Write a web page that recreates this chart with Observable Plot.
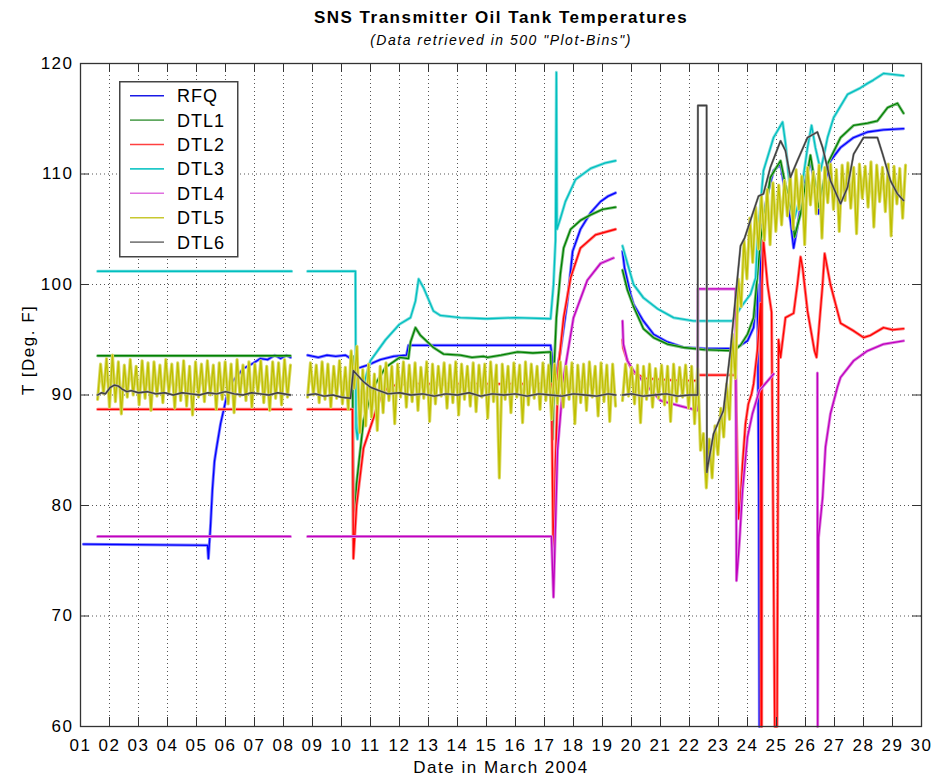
<!DOCTYPE html>
<html><head><meta charset="utf-8">
<script src="https://cdn.jsdelivr.net/npm/d3@7"></script>
<script src="https://cdn.jsdelivr.net/npm/@observablehq/plot@0.6"></script>
<style>
body{margin:0;background:#fff;}
#wrap{position:relative;width:935px;height:780px;}
#legend{position:absolute;left:119px;top:81px;}
</style></head><body>
<div id="wrap"><div id="chart"></div><svg id="legend" width="120" height="177"></svg></div>
<script>
const dayTicks = [1,2,3,4,5,6,7,8,9,10,11,12,13,14,15,16,17,18,19,20,21,22,23,24,25,26,27,28,29,30];
const tempTicks = [60,70,80,90,100,110,120];
const seriesNames = ["RFQ","DTL1","DTL2","DTL3","DTL4","DTL5","DTL6"];
const coreColors = ["#0000ff","#008000","#ff0000","#00bfbf","#bf00bf","#bfbf00","#404040"];
const haloColors = ["#8080ff","#80c080","#ff8080","#80dfdf","#df80df","#dada66","#a0a0a0"];
const legendColors = ["#1a1ae6","#60a860","#ff4040","#20c8c8","#e070e0","#c8c830","#808080"];

// [day of March, temperature °F]; null = no data
const rfq = [[1.10,76.5],[5.38,76.4],[5.41,75.2],[5.48,78.0],[5.55,81.5],[5.62,84.0],[5.69,85.2],[5.83,87.4],[6.07,90.2],[6.24,91.2],[6.62,92.4],[6.97,92.9],[7.2,93.3],[7.45,93.2],[7.7,93.6],[7.9,93.3],[8.1,93.6],[8.24,93.4],null,
 [8.83,93.6],[9.2,93.4],[9.5,93.6],[9.8,93.5],[10.14,93.6],[10.38,93.2],[10.48,92.4],[10.66,92.5],[10.90,92.7],[11.34,93.2],[11.8,93.5],[12.24,93.6],[12.31,94.5],[17.21,94.5],[17.26,93.5],[17.31,89.5],[17.38,91.5],[17.55,94.0],[17.79,98.5],[17.97,103.0],[18.24,105.0],[18.59,106.5],[18.93,107.5],[19.2,108.0],[19.45,108.3],null,
 [19.69,103.0],[19.76,101.5],[19.97,99.1],[20.07,98.2],[20.41,96.7],[20.76,95.5],[21.24,94.8],[21.79,94.3],[22.5,94.2],[23.52,94.2],[23.76,94.5],[24.00,94.9],[24.21,96.1],[24.34,100.0],[24.39,81.4],[24.41,60.0],[24.43,60.0],[24.45,105.0],[24.55,106.0],[24.69,108.2],[24.90,110.3],[25.14,110.9],[25.31,108.2],[25.48,105.8],[25.59,103.3],[25.72,105.2],[25.93,108.8],[26.17,111.2],[26.34,108.8],[26.45,106.4],[26.62,108.8],[26.86,111.2],[27.21,112.4],[27.66,113.3],[28.14,113.8],[28.69,114.0],[29.38,114.1]];

const dtl1 = [[1.59,93.55],[8.24,93.55],null,
 [10.30,93.5],[10.38,93.5],[10.41,76.8],[10.52,82.0],[10.76,87.7],[11.10,90.7],[11.52,92.5],[12.00,93.4],[12.31,93.3],[12.38,94.8],[12.55,96.1],[12.72,95.4],[13.17,94.3],[13.52,93.7],[14.10,93.6],[14.5,93.4],[14.90,93.5],[15.03,93.4],[15.5,93.6],[16.07,93.9],[16.6,93.8],[17.21,93.9],[17.28,86.0],[17.34,93.0],[17.41,97.0],[17.55,101.0],[17.66,103.3],[17.90,105.0],[18.24,105.8],[18.59,106.3],[19.0,106.8],[19.45,107.0],null,
 [19.69,101.3],[19.86,99.5],[20.07,98.0],[20.41,96.0],[20.76,95.2],[21.24,94.6],[21.79,94.3],[22.5,94.1],[23.52,94.0],[23.76,94.5],[24.00,95.5],[24.21,97.0],[24.45,104.0],[24.79,109.7],[25.14,111.2],[25.31,109.0],[25.55,106.4],[25.62,104.3],[25.83,106.4],[26.17,111.7],[26.34,109.0],[26.45,107.0],[26.76,110.9],[27.21,113.3],[27.66,114.4],[28.14,114.6],[28.48,114.8],[28.83,116.0],[29.17,116.4],[29.38,115.5]];

const dtl2 = [[1.59,88.7],[8.27,88.7],null,
 [8.83,88.7],[10.38,88.7],[10.41,75.2],[10.52,80.0],[10.76,85.2],[11.34,89.8],[11.59,90.7],[12.03,91.0],[17.24,91.0],[17.31,74.0],[17.38,84.0],[17.48,92.5],[17.66,97.0],[17.90,100.6],[18.24,103.3],[18.76,104.5],[19.45,105.0],null,
 [19.69,95.0],[19.72,94.2],[19.86,93.1],[20.07,92.0],[20.48,91.5],[21.00,91.4],[21.7,91.3],[22.28,91.3],[22.29,91.8],[23.59,91.8],[23.69,78.8],[23.76,80.5],[23.83,83.8],[23.93,87.4],[24.03,89.2],[24.14,90.1],[24.21,91.0],[24.34,94.0],[24.45,98.3],[24.47,60.0],[24.49,60.0],[24.50,100.0],[24.55,104.0],[24.69,100.0],[24.83,97.5],[24.94,60.0],[25.02,60.0],[25.07,95.0],[25.14,93.4],[25.31,97.0],[25.59,97.4],[25.72,100.0],[25.83,102.5],[25.90,101.5],[26.07,97.6],[26.31,94.0],[26.38,93.4],[26.59,100.0],[26.66,102.8],[26.86,100.0],[27.21,96.5],[27.66,95.8],[28.0,95.2],[28.24,95.4],[28.69,96.1],[29.0,95.9],[29.38,96.0]];

const dtl3 = [[1.59,101.2],[8.28,101.2],null,
 [8.83,101.2],[10.48,101.2],[10.50,87.0],[10.55,86.0],[10.66,90.0],[11.00,93.1],[11.52,95.0],[12.00,96.4],[12.38,97.0],[12.55,98.5],[12.66,100.5],[12.83,99.7],[13.17,97.6],[13.41,97.2],[14.1,97.0],[15.0,96.9],[16.0,97.0],[17.21,96.9],[17.31,100.0],[17.38,104.0],[17.41,119.2],[17.43,105.0],[17.55,106.0],[17.72,107.5],[18.07,109.5],[18.59,110.5],[19.10,111.0],[19.45,111.2],null,
 [19.69,103.5],[19.86,101.9],[20.07,100.0],[20.41,98.8],[20.90,97.8],[21.45,97.0],[22.14,96.7],[23.48,96.7],[23.76,97.9],[24.10,99.1],[24.28,100.6],[24.34,104.0],[24.55,110.3],[24.90,113.3],[25.21,114.7],[25.31,112.8],[25.48,108.2],[25.62,106.0],[25.83,108.0],[26.07,112.4],[26.21,114.4],[26.34,112.4],[26.52,110.3],[26.62,111.5],[26.76,113.3],[26.97,115.1],[27.45,117.2],[27.90,117.8],[28.14,118.2],[28.34,118.5],[28.69,119.1],[29.38,118.9]];

const dtl4 = [[1.59,77.2],[8.24,77.2],null,
 [8.83,77.2],[17.24,77.2],[17.31,71.7],[17.45,85.0],[17.66,91.6],[18.00,97.0],[18.48,100.4],[18.93,101.9],[19.38,102.4],null,
 [19.69,96.7],[19.72,94.6],[19.86,93.1],[20.07,92.2],[20.48,91.0],[21.00,89.5],[21.69,89.0],[22.28,88.6],[22.29,99.6],[23.59,99.6],[23.62,73.2],[23.72,76.6],[23.83,81.4],[24.00,86.2],[24.17,88.3],[24.41,90.4],[24.90,91.9],null,
 [26.41,92.0],[26.42,60.0],[26.45,77.1],[26.59,80.7],[26.69,85.3],[26.86,88.3],[27.10,90.7],[27.21,91.6],[27.66,93.1],[28.14,94.0],[28.69,94.6],[29.38,94.9]];

const dtl6 = [[1.59,90.0],[1.72,90.2],[1.86,90.1],[2.03,90.7],[2.17,90.9],[2.31,90.8],[2.45,90.5],[2.6,90.3],[2.75,90.4],[3.0,90.2],[3.3,90.3],[3.6,90.1],[3.9,90.2],[4.2,90.0],[4.5,90.2],[4.8,90.1],[5.1,90.0],[5.4,90.2],[5.7,90.1],[6.0,90.3],[6.3,90.1],[6.6,90.0],[6.9,90.2],[7.2,90.1],[7.5,90.0],[7.8,90.2],[8.24,90.0],null,
 [8.83,90.0],[9.1,90.1],[9.4,89.9],[9.7,90.0],[10.0,89.8],[10.31,89.7],[10.41,92.2],[10.55,91.8],[10.76,91.2],[11.0,90.7],[11.3,90.4],[11.6,90.1],[12.0,90.2],[12.4,90.0],[12.8,90.1],[13.2,89.9],[13.6,90.1],[14.0,90.0],[14.4,90.2],[14.8,89.9],[15.2,90.1],[15.6,90.0],[16.0,90.1],[16.4,89.9],[16.8,90.1],[17.2,90.0],[17.6,89.9],[18.0,90.1],[18.4,90.0],[18.8,89.9],[19.2,90.1],[19.45,90.0],null,
 [19.69,90.0],[20.0,90.1],[20.4,89.9],[20.8,90.0],[21.2,90.1],[21.6,89.9],[22.0,90.0],[22.28,90.0],[22.29,116.2],[22.59,116.2],[22.60,83.0],[22.62,83.4],[22.83,86.5],[23.17,88.6],[23.41,94.0],[23.59,98.9],[23.76,103.5],[23.9,104.2],[24.10,105.8],[24.38,108.0],[24.55,108.2],[24.79,110.6],[25.14,113.0],[25.31,112.1],[25.48,109.7],[25.72,111.2],[26.07,113.3],[26.41,113.8],[26.59,112.4],[26.86,109.4],[27.21,107.3],[27.45,108.8],[27.66,111.8],[28.00,113.3],[28.48,113.3],[28.66,111.8],[28.93,109.4],[29.17,108.2],[29.38,107.6]];

// DTL5: per-bin readings (alternating bin max / min), spread over each span of days
const dtl5Spans = [[1.59,8.24],[8.83,19.45],[19.69,22.28],[22.38,24.48],[24.58,29.45]];
const dtl5A = [89.6,92.8,90.1,93.3,88.9,93.6,89.4,93.0,88.3,92.7,89.8,93.2,90.0,92.6,89.1,93.1,89.7,92.9,88.6,93.0,89.9,92.7,89.3,93.2,90.2,92.8,88.8,92.9,89.5,93.1,89.0,92.6,88.2,93.0,89.8,92.8,89.4,93.1,90.0,92.7,88.7,92.9,89.6,93.0,89.2,92.8,88.4,93.2,89.9,92.7,89.5,93.0,88.9,92.8,90.1,93.1,89.3,92.6,88.6,93.0,89.7,92.9,89.1,93.2,89.8,92.7];
const dtl5B = [89.8,92.9,90.0,92.7,89.3,93.0,89.6,92.8,88.9,92.6,89.7,93.1,89.2,92.5,88.7,
 94.0,90.6,94.4,
 86.6,92.3,87.2,92.8,88.0,91.9,86.8,92.6,
 88.4,92.9,89.5,92.6,87.4,92.8,89.8,93.0,88.9,92.7,89.4,92.9,88.6,92.5,89.7,93.0,87.6,92.8,89.2,92.6,89.9,92.9,88.8,92.7,89.3,93.0,88.2,92.8,89.6,92.6,89.0,92.9,88.5,92.7,89.8,92.8,87.9,93.0,89.4,92.7,
 82.5,
 92.8,89.6,92.6,88.4,92.9,89.8,92.7,87.5,93.0,89.1,92.8,89.7,92.6,88.7,92.9,89.5,92.7,87.8,92.8,89.2,93.0,88.9,92.6,89.6,92.9,87.4,92.7,89.3,92.8,88.6,93.0,89.8,92.6,88.1,92.9,89.4,92.7,87.6,92.8,89.0];
const dtl5C = [89.5,92.8,89.9,92.5,89.2,92.7,87.5,92.6,89.6,92.8,88.9,92.4,89.7,92.7,89.1,92.6,87.6,92.8,89.4,92.5,89.8,92.7,88.8,92.6,87.4,92.4];
const dtl5D = [85.0,86.5,81.6,86.0,82.5,87.2,84.6,88.8,86.2,91.0,87.8,95.5,91.5,100.5,98.0,104.0,100.5,106.0,102.0,107.0,103.2,108.0];
const dtl5E = [104.0,108.6,103.6,109.2,104.8,109.0,105.4,109.4,106.2,110.0,105.0,110.4,106.8,109.8,103.6,110.6,107.2,110.2,106.4,110.8,104.2,110.6,107.4,110.9,106.8,110.4,104.8,110.8,107.6,111.0,106.9,110.6,104.6,110.9,107.8,110.7,107.0,111.1,105.2,110.8,107.5,110.6,106.6,110.9,104.4,110.7,107.3,110.5,106.0,110.8];

function binPoints(values, span) {
  const step = (span[1] - span[0]) / (values.length - 1);
  return values.map((v, i) => [span[0] + i * step, v]);
}
const dtl5 = [...binPoints(dtl5A, dtl5Spans[0]), null,
  ...binPoints(dtl5B, dtl5Spans[1]), null,
  ...binPoints(dtl5C, dtl5Spans[2]), ...binPoints(dtl5D, dtl5Spans[3]), ...binPoints(dtl5E, dtl5Spans[4])];

const series = [rfq, dtl1, dtl2, dtl3, dtl4, dtl5, dtl6];
const X = d => d ? d[0] : NaN;
const Y = d => d ? d[1] : NaN;
const haloWidths = [3, 3, 3, 3, 3, 3.2, 2.3];
const coreWidths = [1.3, 1.3, 1.3, 1.3, 1.3, 1.3, 1.4];

const FW = 935 - 80 - 14, FH = 780 - 63 - 54;
const lineMarks = series.flatMap((s, i) => [
  Plot.line(s, {x: X, y: Y, stroke: haloColors[i], strokeWidth: haloWidths[i]}),
  Plot.line(s, {x: X, y: Y, stroke: coreColors[i], strokeWidth: coreWidths[i]})]);

const chart = Plot.plot({
  width: 935, height: 780,
  marginLeft: 80, marginRight: 14, marginTop: 63, marginBottom: 54,
  style: {fontFamily: "'Liberation Sans', Arial, sans-serif", fontSize: "17px", letterSpacing: "1.5px", background: "#fff", color: "#000"},
  x: {domain: [1, 30], label: null},
  y: {domain: [60, 120], label: null},
  marks: [
    Plot.ruleX(dayTicks, {x: d => d, stroke: "#555", strokeDasharray: "1,3"}),
    Plot.ruleY(tempTicks, {y: d => d, stroke: "#555", strokeDasharray: "1,3"}),
    ...lineMarks,
    Plot.ruleX(dayTicks, {x: d => d, insetTop: FH - 9, stroke: "#333"}),
    Plot.ruleX(dayTicks, {x: d => d, insetBottom: FH - 9, stroke: "#333"}),
    Plot.ruleY(tempTicks, {y: d => d, insetRight: FW - 9, stroke: "#333"}),
    Plot.ruleY(tempTicks, {y: d => d, insetLeft: FW - 9, stroke: "#333"}),
    Plot.frame({stroke: "#333", strokeWidth: 1.3}),
    Plot.axisX({ticks: dayTicks, tickSize: 0, tickPadding: 12, tickFormat: d => (d < 10 ? "0" : "") + d, label: null, fontSize: 17}),
    Plot.axisY({ticks: tempTicks, tickSize: 0, tickPadding: 7, label: null, fontSize: 17}),
    Plot.text(["SNS Transmitter Oil Tank Temperatures"], {text: d => d, frameAnchor: "top", lineAnchor: "middle", dy: -45.5, fontWeight: "bold", fontSize: 17}),
    Plot.text(["(Data retrieved in 500 \"Plot-Bins\")"], {text: d => d, frameAnchor: "top", lineAnchor: "middle", dy: -23, fontStyle: "italic", fontSize: 14, letterSpacing: "1.2px"}),
    Plot.text(["Date in March 2004"], {text: d => d, frameAnchor: "bottom", lineAnchor: "middle", dy: 41, fontSize: 17}),
    Plot.text(["T [Deg. F]"], {text: d => d, frameAnchor: "left", lineAnchor: "middle", dx: -52, rotate: -90, fontSize: 17})
  ]
});
document.getElementById("chart").appendChild(chart);

// legend
const lg = d3.select("#legend");
lg.append("rect").attr("x", 0.75).attr("y", 0.75).attr("width", 118).attr("height", 175)
  .attr("fill", "#fff").attr("stroke", "#444").attr("stroke-width", 1.5);
seriesNames.forEach((name, i) => {
  const y = 14.7 + i * 24.4;
  lg.append("line").attr("x1", 11).attr("x2", 45).attr("y1", y).attr("y2", y)
    .attr("stroke", legendColors[i]).attr("stroke-width", 1.6);
  lg.append("text").attr("x", 58).attr("y", y).attr("dy", "0.36em").text(name)
    .attr("font-family", "'Liberation Sans', Arial, sans-serif").attr("font-size", 18)
    .attr("letter-spacing", "1px").attr("fill", "#000");
});
</script></body></html>
